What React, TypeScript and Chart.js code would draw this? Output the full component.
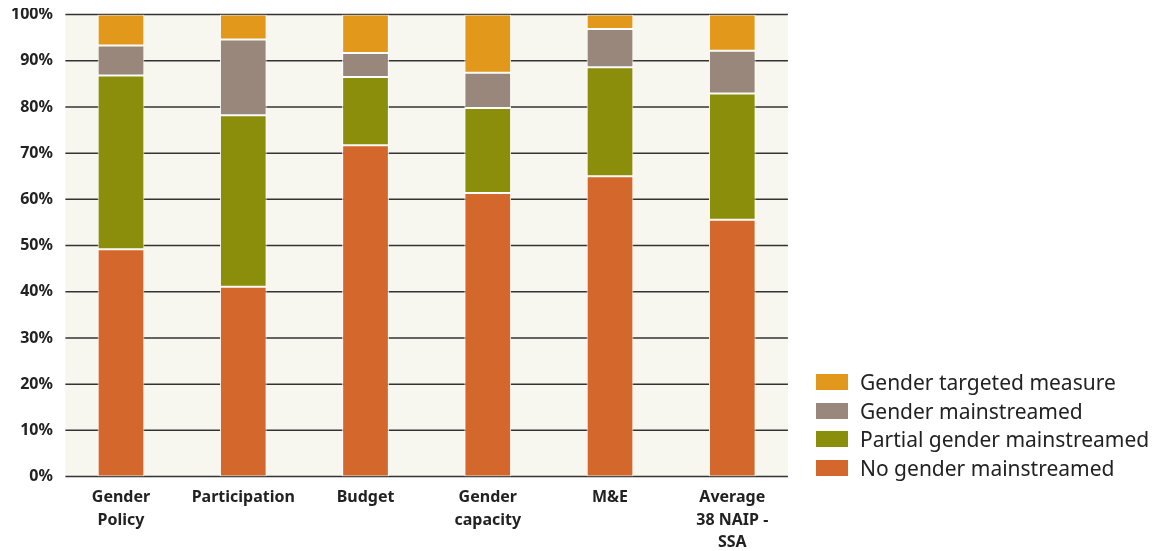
import React, { useEffect, useRef } from "react";
import { Chart, registerables } from "chart.js";

Chart.register(...registerables);

const categories: string[][] = [
  ["Gender", "Policy"],
  ["Participation"],
  ["Budget"],
  ["Gender", "capacity"],
  ["M&E"],
  ["Average", "38 NAIP -", "SSA"],
];

const noGender = [49.2, 41.1, 71.7, 61.4, 65.0, 55.6];
const partialGender = [37.6, 37.1, 14.8, 18.4, 23.6, 27.3];
const genderMainstreamed = [6.5, 16.4, 5.2, 7.6, 8.3, 9.3];
const genderTargeted = [6.7, 5.4, 8.3, 12.6, 3.1, 7.8];

const seriesLabels = [
  "No gender mainstreamed",
  "Partial gender mainstreamed",
  "Gender mainstreamed",
  "Gender targeted measure",
];
const seriesColors = ["#d4682c", "#8b8e0b", "#9a877c", "#e2981a"];

const yTicks = [0, 10, 20, 30, 40, 50, 60, 70, 80, 90, 100];

const FONT = "'Noto Sans', 'Open Sans', sans-serif";
const INSET = 5.5;

const plotBg = {
  id: "plotBg",
  beforeDatasetsDraw(chart: any) {
    const { ctx, chartArea, scales } = chart;
    if (!chartArea) return;
    const l = chartArea.left + INSET;
    const r = chartArea.right - INSET;
    ctx.save();
    ctx.fillStyle = "#f7f6ef";
    ctx.fillRect(l, chartArea.top, r - l, chartArea.bottom - chartArea.top);
    ctx.strokeStyle = "#333";
    ctx.lineWidth = 1.5;
    for (const v of yTicks) {
      const y = scales.y.getPixelForValue(v);
      ctx.beginPath();
      ctx.moveTo(l, y);
      ctx.lineTo(r, y);
      ctx.stroke();
    }
    ctx.restore();
  },
};

export default function App() {
  const ref = useRef<HTMLCanvasElement>(null);
  useEffect(() => {
    if (!ref.current) return;
    const values = [noGender, partialGender, genderMainstreamed, genderTargeted];
    const chart = new Chart(ref.current, {
      type: "bar",
      data: {
        labels: categories,
        datasets: values.map((data, i) => ({
          label: seriesLabels[i],
          data,
          backgroundColor: seriesColors[i],
          borderColor: "#ffffff",
          borderWidth: 1,
          borderSkipped: false,
          barPercentage: 0.382,
          categoryPercentage: 1,
        })),
      },
      options: {
        animation: false,
        responsive: true,
        maintainAspectRatio: false,
        layout: { padding: { top: 0, right: 354.6, bottom: 0, left: 3 } },
        plugins: {
          tooltip: { enabled: false },
          legend: { display: false },
        },
        scales: {
          x: {
            stacked: true,
            grid: { display: false, drawTicks: false },
            border: { display: false },
            ticks: {
              color: "#222",
              padding: 10,
              maxRotation: 0,
              autoSkip: false,
              font: { family: FONT, size: 16, weight: "bold", lineHeight: 1.406 },
            },
          },
          y: {
            stacked: true,
            min: 0,
            max: 100,
            afterBuildTicks: (axis: any) => {
              axis.ticks = yTicks.map((v) => ({ value: v }));
            },
            grid: { display: false, drawTicks: false },
            border: { display: false },
            ticks: {
              color: "#222",
              padding: 7,
              callback: (v: any) => v + "%",
              font: { family: FONT, size: 16, weight: "bold" },
            },
          },
        },
      },
      plugins: [plotBg],
    });
    return () => chart.destroy();
  }, []);

  const legendOrder = [3, 2, 1, 0];
  return (
    <div style={{ position: "relative", width: 1140, height: 543, overflow: "hidden" }}>
      <div style={{ position: "absolute", left: -7, top: -9.6, width: 1147, height: 566 }}>
        <canvas ref={ref} />
      </div>
      <div
        style={{
          position: "absolute",
          left: 808,
          top: 359.5,
          fontFamily: FONT,
          fontSize: 21,
          color: "#222",
        }}
      >
        {legendOrder.map((i) => (
          <div key={i} style={{ display: "flex", alignItems: "center", height: 28.7, whiteSpace: "nowrap" }}>
            <span style={{ display: "inline-block", width: 32, height: 16, background: seriesColors[i], marginRight: 12 }} />
            <span>{seriesLabels[i]}</span>
          </div>
        ))}
      </div>
    </div>
  );
}
